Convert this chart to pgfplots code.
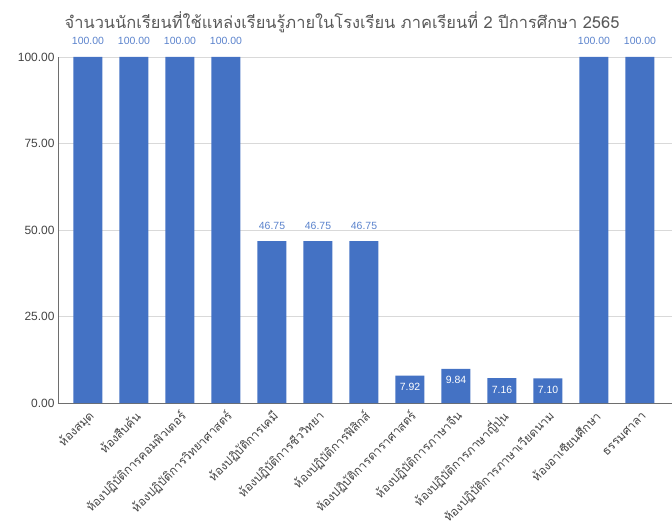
\documentclass[border=0pt]{standalone}
\usepackage{fontspec}
\setmainfont{Liberation Sans}
\newfontfamily\thaifont[Script=Thai]{Loma}
\usepackage{pgfplots}
\pgfplotsset{compat=1.18}
\definecolor{barc}{RGB}{68,114,196}
\definecolor{lblc}{RGB}{90,130,204}
\definecolor{tickc}{RGB}{68,68,68}
\definecolor{gridc}{RGB}{217,217,217}
\definecolor{axisc}{RGB}{110,110,110}
\definecolor{ttlc}{RGB}{89,89,89}

\begin{document}
\begin{tikzpicture}
\begin{axis}[
  scale only axis, width=614bp, height=346bp,
  ybar, bar width=29bp,
  xmin=-0.652, xmax=12.696, ymin=0, ymax=100,
  axis x line*=bottom, axis y line*=left,
  axis line style={axisc, line width=1pt},
  ymajorgrids, grid style={gridc, line width=0.8pt},
  xtick={0,...,12},
  xticklabels={ห้องสมุด, ห้องสืบค้น, ห้องปฏิบัติการคอมพิวเตอร์, ห้องปฏิบัติการวิทยาศาสตร์, ห้องปฏิบัติการเคมี, ห้องปฏิบัติการชีววิทยา, ห้องปฏิบัติการฟิสิกส์, ห้องปฏิบัติการดาราศาสตร์, ห้องปฏิบัติการภาษาจีน, ห้องปฏิบัติการภาษาญี่ปุ่น, ห้องปฏิบัติการภาษาเวียดนาม, ห้องอาเซียนศึกษา, ธรรมศาลา},
  xticklabel style={xshift=5bp, yshift=-6bp, font=\thaifont\fontsize{12}{12}\selectfont, rotate=45, anchor=east, text=tickc, inner sep=1pt},
  ytick={0,25,50,75,100},
  yticklabel style={font=\fontsize{12}{12}\selectfont, text=tickc},
  tick style={draw=none},
  /pgf/number format/.cd, fixed, fixed zerofill, precision=2, assume math mode=true,
]
\addplot[fill=barc, draw=none, bar shift=0pt,
  nodes near coords,
  nodes near coords style={font=\fontsize{10.5}{10.5}\selectfont, text=lblc, anchor=base, yshift=12bp, inner sep=0pt}]
  coordinates {(0,100) (1,100) (2,100) (3,100) (4,46.75) (5,46.75) (6,46.75) (11,100) (12,100)};
\addplot[fill=barc, draw=none, bar shift=0pt,
  nodes near coords,
  nodes near coords style={font=\fontsize{10.5}{10.5}\selectfont, text=white, anchor=north, yshift=-4bp}]
  coordinates {(7,7.92) (8,9.84) (9,7.16) (10,7.10)};
\end{axis}
\node[text=ttlc, font=\thaifont\fontsize{16.5}{16.5}\selectfont] at ([shift={(284bp,381bp)}]current axis.south west)
  {จำนวนนักเรียนที่ใช้แหล่งเรียนรู้ภายในโรงเรียน ภาคเรียนที่ 2 ปีการศึกษา 2565};
\pgfresetboundingbox
\path ([shift={(-58bp,-124bp)}]current axis.south west) rectangle ([shift={(614bp,403bp)}]current axis.south west);
\end{tikzpicture}
\end{document}
